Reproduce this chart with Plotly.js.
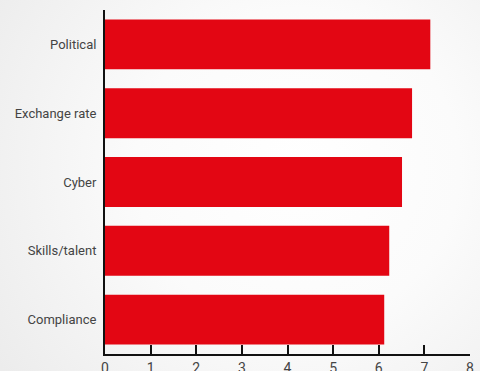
<!DOCTYPE html>
<html>
<head>
<meta charset="utf-8">
<script src="https://cdn.plot.ly/plotly-3.0.1.min.js"></script>
<style>
html, body { margin:0; padding:0; }
body { width:480px; height:371px; overflow:hidden;
  background: radial-gradient(ellipse 75% 95% at 62% 45%, #ffffff 0%, #fbfbfb 45%, #ececec 100%); }
#chart { width:480px; height:371px; }
</style>
</head>
<body>
<div id="chart"></div>
<script>
const categories = ['Compliance', 'Skills/talent', 'Cyber', 'Exchange rate', 'Political'];
const values = [6.12, 6.23, 6.51, 6.73, 7.13];
const xTicks = [0, 1, 2, 3, 4, 5, 6, 7, 8];

const trace = {
  type: 'bar',
  orientation: 'h',
  y: categories,
  x: values,
  marker: { color: '#e30613', line: { width: 0 } },
  hoverinfo: 'none'
};

const layout = {
  width: 480, height: 371,
  margin: { l: 105, r: 10, t: 9.5, b: 16.5 },
  paper_bgcolor: 'rgba(0,0,0,0)',
  plot_bgcolor: 'rgba(0,0,0,0)',
  bargap: 0.275,
  showlegend: false,
  font: { family: 'Roboto, "DejaVu Sans", sans-serif', size: 13, color: '#444444' },
  xaxis: {
    range: [0, 8],
    tickvals: xTicks,
    ticktext: xTicks.map(String),
    showgrid: false, zeroline: false,
    showline: true, linecolor: '#111111', linewidth: 2,
    ticks: 'inside', ticklen: 9, tickwidth: 2, tickcolor: '#111111',
    tickfont: { size: 14, color: '#444444' },
    fixedrange: true
  },
  yaxis: {
    type: 'category',
    range: [-0.5, 4.5],
    showgrid: false, zeroline: false,
    showline: true, linecolor: '#111111', linewidth: 2,
    ticks: '', ticklabelstandoff: 4,
    tickfont: { size: 13, color: '#444444' },
    fixedrange: true
  }
};

Plotly.newPlot('chart', [trace], layout, { displayModeBar: false, staticPlot: true });
</script>
</body>
</html>
